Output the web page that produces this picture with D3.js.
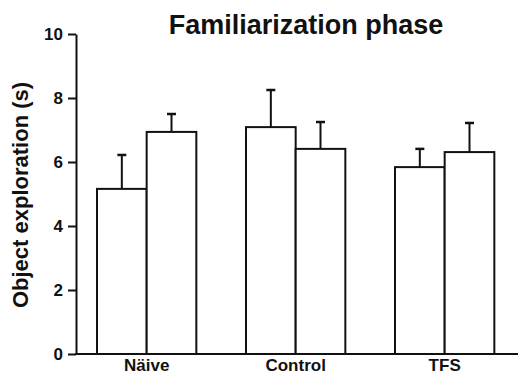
<!DOCTYPE html>
<html>
<head>
<meta charset="utf-8">
<script src="https://cdn.jsdelivr.net/npm/d3@7"></script>
<style>
  body { margin: 0; background: #fff; }
  svg { display: block; font-family: "Liberation Sans", Arial, sans-serif; }
</style>
</head>
<body>
<div id="chart"></div>
<script>
const groups = ["Näive", "Control", "TFS"];
const objects = ["A", "B"];
const means = [[5.16, 6.94], [7.09, 6.41], [5.84, 6.31]];
const errors = [[1.06, 0.56], [1.16, 0.84], [0.57, 0.91]];
const yTicks = [0, 2, 4, 6, 8, 10];

const width = 518, height = 376;
const axisX = 76, axisY = 354, topY = 34;

const svg = d3.select("#chart").append("svg")
  .attr("width", width).attr("height", height);

const y = d3.scaleLinear().domain([0, 10]).range([axisY, topY]);
// each group band is ~149 wide: two bars + one bar-width gap
const x0 = d3.scaleBand().domain(groups).range([97, 544]);
const x1 = d3.scaleBand().domain(objects).range([0, x0.bandwidth() * 2 / 3]);

const bars = [];
groups.forEach((g, i) => objects.forEach((o, j) => {
  bars.push({ g, o, v: means[i][j], e: errors[i][j] });
}));

const cx = d => x0(d.g) + x1(d.o) + x1.bandwidth() / 2;
const g = svg.append("g");

// error bars first, so the bar outline sits on top
g.selectAll(".err").data(bars).enter().append("line")
  .attr("x1", cx).attr("x2", cx)
  .attr("y1", d => y(d.v))
  .attr("y2", d => y(d.v + d.e))
  .attr("stroke", "#111").attr("stroke-width", 2);

g.selectAll(".cap").data(bars).enter().append("line")
  .attr("x1", d => cx(d) - 4.5)
  .attr("x2", d => cx(d) + 4.5)
  .attr("y1", d => y(d.v + d.e))
  .attr("y2", d => y(d.v + d.e))
  .attr("stroke", "#111").attr("stroke-width", 2.5);

g.selectAll(".bar").data(bars).enter().append("rect")
  .attr("x", d => x0(d.g) + x1(d.o))
  .attr("y", d => y(d.v))
  .attr("width", x1.bandwidth())
  .attr("height", d => axisY - y(d.v))
  .attr("fill", "#fff")
  .attr("stroke", "#111").attr("stroke-width", 2);

// y axis: d3 draws line + ticks, labels drawn separately
const yAxis = svg.append("g")
  .attr("transform", "translate(" + axisX + ",0)")
  .call(d3.axisLeft(y).tickValues(yTicks).tickSize(8).tickFormat("").tickSizeOuter(0));
yAxis.select(".domain").attr("stroke", "#111").attr("stroke-width", 2);
yAxis.selectAll(".tick line").attr("stroke", "#111").attr("stroke-width", 2);

svg.selectAll(".ylab").data(yTicks).enter().append("text")
  .attr("x", axisX - 13)
  .attr("y", d => y(d))
  .attr("dy", "0.36em")
  .attr("text-anchor", "end")
  .attr("font-size", 17).attr("font-weight", "bold").attr("fill", "#111")
  .text(d => d);

// x axis line
svg.append("line")
  .attr("x1", axisX - 1).attr("x2", width)
  .attr("y1", axisY).attr("y2", axisY)
  .attr("stroke", "#111").attr("stroke-width", 2);

svg.selectAll(".xlab").data(groups).enter().append("text")
  .attr("x", d => x0(d) + x1.bandwidth())
  .attr("y", 371)
  .attr("text-anchor", "middle")
  .attr("font-size", 17).attr("font-weight", "bold").attr("fill", "#111")
  .text(d => d);

// y label
svg.append("text")
  .attr("transform", "translate(28,195) rotate(-90)")
  .attr("text-anchor", "middle")
  .attr("font-size", 22).attr("font-weight", "bold").attr("fill", "#111")
  .text("Object exploration (s)");

// title
svg.append("text")
  .attr("x", 306).attr("y", 34)
  .attr("text-anchor", "middle")
  .attr("font-size", 27).attr("font-weight", "bold").attr("fill", "#111")
  .text("Familiarization phase");
</script>
</body>
</html>
